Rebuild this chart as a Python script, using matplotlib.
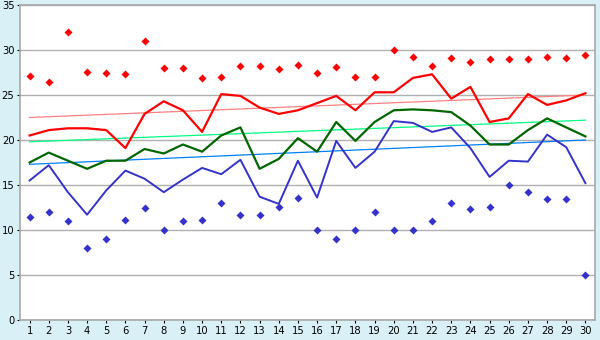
import numpy as np
import matplotlib.pyplot as plt

days = list(range(1, 31))

max_extreme = [27.1, 26.5, 32.0, 27.6, 27.4, 27.3, 31.0, 28.0, 28.0, 26.9,
               27.0, 28.2, 28.2, 27.9, 28.3, 27.4, 28.1, 27.0, 27.0, 30.0,
               29.2, 28.2, 29.1, 28.7, 29.0, 29.0, 29.0, 29.2, 29.1, 29.5]
max_avg = [20.5, 21.1, 21.3, 21.3, 21.1, 19.1, 22.9, 24.3, 23.3, 20.9,
           25.1, 24.9, 23.6, 22.9, 23.3, 24.1, 24.9, 23.3, 25.3, 25.3,
           26.9, 27.3, 24.6, 25.9, 22.0, 22.4, 25.1, 23.9, 24.4, 25.2]
mean_temp = [17.5, 18.6, 17.7, 16.8, 17.7, 17.7, 19.0, 18.5, 19.5, 18.7,
             20.5, 21.4, 16.8, 17.9, 20.2, 18.7, 22.0, 19.9, 22.0, 23.3,
             23.4, 23.3, 23.1, 21.6, 19.5, 19.5, 21.1, 22.4, 21.4, 20.4]
min_avg = [15.5, 17.2, 14.2, 11.7, 14.4, 16.6, 15.7, 14.2, 15.6, 16.9,
           16.2, 17.8, 13.7, 12.9, 17.7, 13.6, 19.9, 16.9, 18.7, 22.1,
           21.9, 20.9, 21.4, 19.1, 15.9, 17.7, 17.6, 20.6, 19.2, 15.2]
min_extreme = [11.5, 12.0, 11.0, 8.0, 9.0, 11.1, 12.4, 10.0, 11.0, 11.1,
               13.0, 11.7, 11.7, 12.6, 13.6, 10.0, 9.0, 10.0, 12.0, 10.0,
               10.0, 11.0, 13.0, 12.3, 12.6, 15.0, 14.2, 13.5, 13.5, 5.0]

# trend lines, start and end values
trend_days = [1, 30]
trend_max = [22.5, 25.0]
trend_mean = [19.8, 22.2]
trend_min = [17.3, 20.0]

bg = '#d9f0f7'
fig = plt.figure(figsize=(6, 3.4), dpi=100, facecolor=bg)
ax = fig.add_axes([20 / 600, 20 / 340, 575 / 600, 315 / 340])
ax.set_facecolor('white')

ax.plot(trend_days, trend_max, color='#ff8080', lw=0.9, zorder=2)
ax.plot(trend_days, trend_mean, color='#00ff80', lw=0.9, zorder=2)
ax.plot(trend_days, trend_min, color='#0080ff', lw=0.9, zorder=2)

ax.plot(days, max_avg, color='#ff0000', lw=1.6, zorder=3)
ax.plot(days, mean_temp, color='#006600', lw=1.6, zorder=3)
ax.plot(days, min_avg, color='#3333cc', lw=1.4, zorder=3)

ax.plot(days, max_extreme, ls='none', marker='D', ms=3.6, color='#ff0000', mec='none', zorder=4)
ax.plot(days, min_extreme, ls='none', marker='D', ms=3.6, color='#3333cc', mec='none', zorder=4)

ax.set_xlim(0.5, 30.5)
ax.set_ylim(0, 35)
ax.set_xticks(days)
ax.set_yticks(range(0, 36, 5))
ax.grid(axis='y', color='#b0b0b0', lw=1)
ax.set_axisbelow(True)
for side in ['top', 'right', 'left', 'bottom']:
    ax.spines[side].set_color('#a8a8a8')
    ax.spines[side].set_linewidth(1.2)
ax.tick_params(axis='both', labelsize=7.2, length=2.5, width=0.8, color='black', pad=1.5)

plt.savefig('out.png', dpi=100, facecolor=bg)
